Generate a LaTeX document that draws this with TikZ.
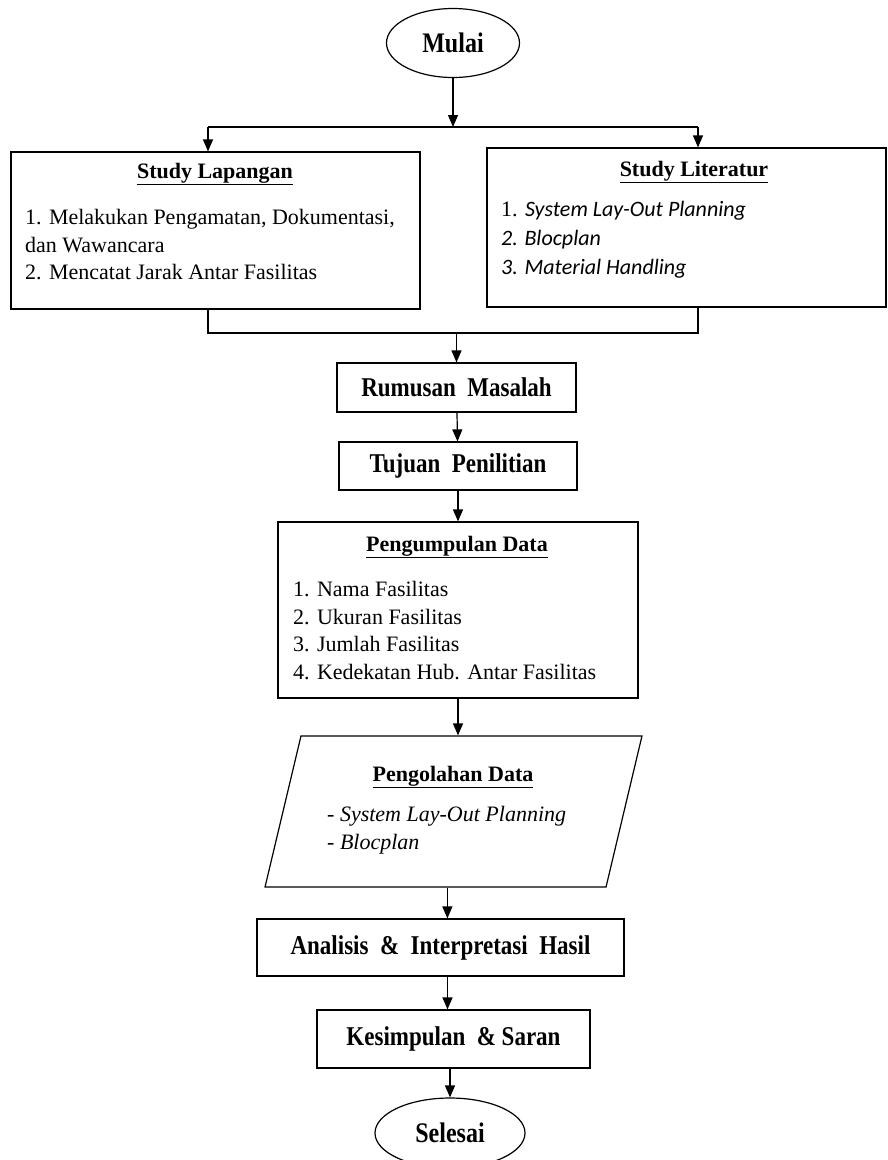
\documentclass[tikz,border=0pt]{standalone}
\usepackage{fontspec}
\setmainfont{Liberation Serif}
\newfontfamily\calibri{Carlito}
\usetikzlibrary{arrows.meta,shapes.geometric}
\newcommand{\tall}[1]{\scalebox{1}[1.18]{#1}}

\begin{document}
\begin{tikzpicture}[x=1pt,y=-1pt]
    \tikzset{box/.style = {shape=rectangle, draw, line width=1.2pt, inner sep=0pt}}
    \tikzset{terminal/.style = {shape=ellipse, draw, line width=1.2pt, inner sep=0pt, font=\fontsize{24}{28}\selectfont\bfseries}}
    \tikzset{heading/.style = {font=\fontsize{23}{28}\selectfont\bfseries}}
    \tikzset{title/.style = {inner sep=0pt, font=\fontsize{22}{28}\selectfont\bfseries}}
    \tikzset{item/.style = {anchor=base west, inner sep=0pt, font=\fontsize{22}{28}\selectfont}}
    \tikzset{edge/.style = {->,> = {Triangle[length=12pt,width=10pt]}, line width=1.2pt}}
    \tikzset{line/.style = {line width=1.2pt}}

    \useasboundingbox (0,0) rectangle (888,1160);

    \node[terminal, minimum width=133pt, minimum height=69pt] (mulai) at (453,43) {\tall{Mulai}};

    \node[box, minimum width=409pt, minimum height=157pt] (lapangan) at (215.5,230.5) {};
    \node[title] (lapanganT) at (215,174) {\underline{Study Lapangan}};
    \node[item] (lap1) at (25,224) {1. Melakukan Pengamatan, Dokumentasi,};
    \node[item] (lap2) at (25,252) {dan Wawancara};
    \node[item] (lap3) at (25,279) {2. Mencatat Jarak Antar Fasilitas};

    \node[box, minimum width=399pt, minimum height=159pt] (literatur) at (686.5,227.5) {};
    \node[title] (literaturT) at (694,172) {\underline{Study Literatur}};
    \node[item] (lit1) at (501,216) {1. {\calibri\itshape System Lay-Out Planning}};
    \node[item] (lit2) at (501,245) {\calibri\itshape 2. Blocplan};
    \node[item] (lit3) at (501,274) {\calibri\itshape 3. Material Handling};

    \node[box, heading, minimum width=239pt, minimum height=49pt] (rumusan) at (456.5,387.5) {\tall{Rumusan~~Masalah}};
    \node[box, heading, minimum width=238pt, minimum height=48pt] (tujuan) at (458,466) {\tall{Tujuan~~Penilitian}};

    \node[box, minimum width=360pt, minimum height=176pt] (kumpul) at (458,610) {};
    \node[title] (kumpulT) at (457,547) {\underline{Pengumpulan Data}};
    \node[item] (kumpul1) at (293,596) {1. Nama Fasilitas};
    \node[item] (kumpul2) at (293,624) {2. Ukuran Fasilitas};
    \node[item] (kumpul3) at (293,651) {3. Jumlah Fasilitas};
    \node[item] (kumpul4) at (293,679) {4. Kedekatan Hub. Antar Fasilitas};

    % parallelogram for the processing step
    \begin{scope}[shift={(453.5,811.5)}, xslant=0.238]
        \node[box, transform shape, minimum width=341pt, minimum height=151pt] (olah) at (0,0) {};
    \end{scope}
    \node[title] (olahT) at (453,777) {\underline{Pengolahan Data}};
    \node[item] (olah1) at (327,821) {\itshape - System Lay-Out Planning};
    \node[item] (olah2) at (327,849) {\itshape - Blocplan};

    \node[box, heading, minimum width=367pt, minimum height=57pt] (analisis) at (440.5,947.5) {\tall{Analisis~~\&~~Interpretasi~~Hasil}};
    \node[box, heading, minimum width=273pt, minimum height=58pt] (kesimpulan) at (453.5,1039) {\tall{Kesimpulan~~\& Saran}};

    \node[terminal, minimum width=150pt, minimum height=70pt] (selesai) at (450,1133) {\tall{Selesai}};

    \coordinate (splitL) at (208,127);
    \coordinate (splitR) at (698,127);
    \coordinate (joinL) at (208,333);
    \coordinate (joinR) at (698,333);

    \draw[edge] (mulai) to (mulai.south |- splitL);
    \draw[line] (splitL) to (splitR);
    \draw[edge] (splitL) to (splitL |- lapangan.north);
    \draw[edge] (splitR) to (splitR |- literatur.north);
    \draw[line] (lapangan.south -| joinL) -- (joinL) -- (joinR) -- (literatur.south -| joinR);
    \draw[edge] (rumusan.north |- joinL) to (rumusan);
    \draw[edge] (rumusan) to (tujuan);
    \draw[edge] (tujuan) to (kumpul);
    \draw[edge] (kumpul.south) to (kumpul.south |- olah.north);
    \draw[edge] ([xshift=12pt]olah.south) to ([xshift=12pt]olah.south |- analisis.north);
    \draw[edge] ([xshift=-6pt]kesimpulan.north |- analisis.south) to ([xshift=-6pt]kesimpulan.north);
    \draw[edge] (selesai.north |- kesimpulan.south) to (selesai.north);
\end{tikzpicture}
\end{document}
